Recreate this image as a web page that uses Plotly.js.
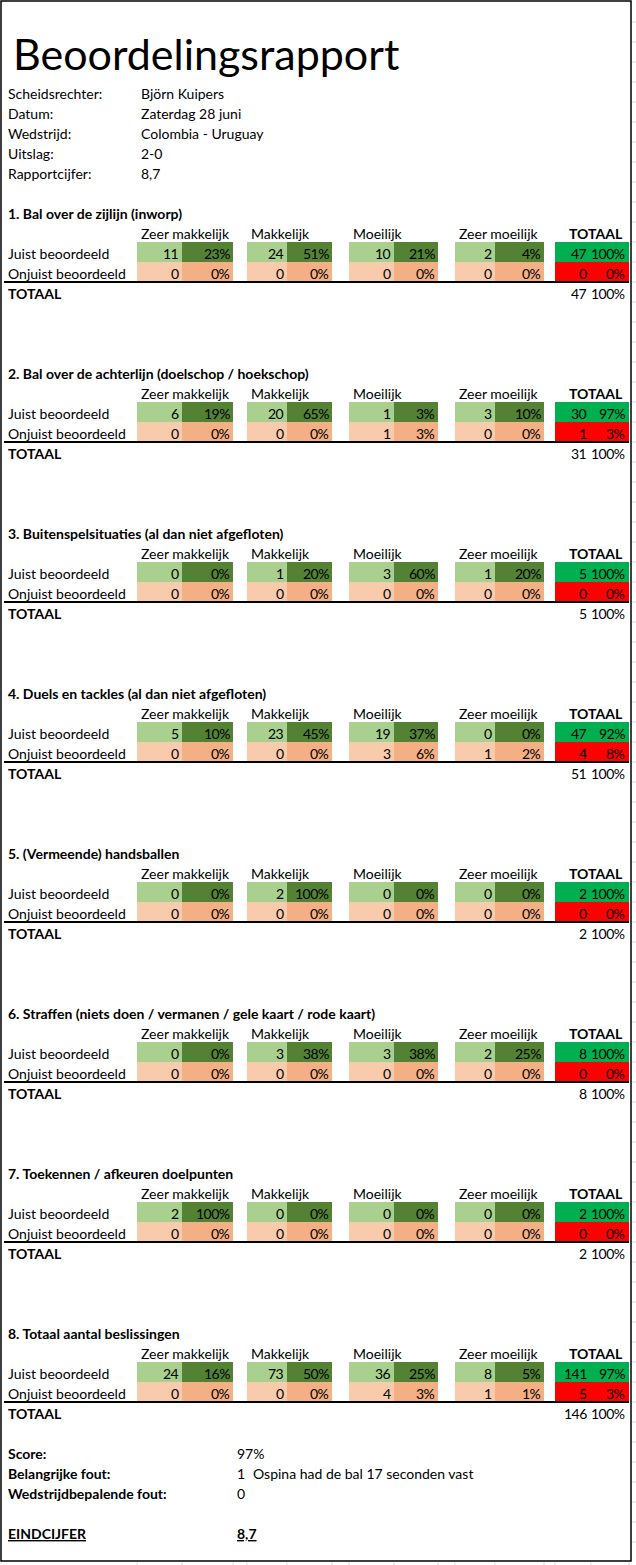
<!DOCTYPE html>
<html><head><meta charset="utf-8">
<script src="https://cdn.plot.ly/plotly-3.0.1.min.js"></script>
<style>html,body{margin:0;padding:0;background:#fff}</style>
</head><body><div id="chart" style="width:636px;height:1565px"></div>
<script>
// ---------- DATA ----------
const reportTitle = "Beoordelingsrapport";
const infoLabels = ["Scheidsrechter:", "Datum:", "Wedstrijd:", "Uitslag:", "Rapportcijfer:"];
const infoValues = ["Björn Kuipers", "Zaterdag 28 juni", "Colombia - Uruguay", "2-0", "8,7"];
const sectionTitles = [
  "1. Bal over de zijlijn (inworp)",
  "2. Bal over de achterlijn (doelschop / hoekschop)",
  "3. Buitenspelsituaties (al dan niet afgefloten)",
  "4. Duels en tackles (al dan niet afgefloten)",
  "5. (Vermeende) handsballen",
  "6. Straffen (niets doen / vermanen / gele kaart / rode kaart)",
  "7. Toekennen / afkeuren doelpunten",
  "8. Totaal aantal beslissingen"
];
const difficulties = ["Zeer makkelijk", "Makkelijk", "Moeilijk", "Zeer moeilijk"];
const totalHeader = "TOTAAL";
const rowLabels = ["Juist beoordeeld", "Onjuist beoordeeld"];
const totalRowLabel = "TOTAAL";
const juistCount = [[11,24,10,2],[6,20,1,3],[0,1,3,1],[5,23,19,0],[0,2,0,0],[0,3,3,2],[2,0,0,0],[24,73,36,8]];
const juistPct   = [[23,51,21,4],[19,65,3,10],[0,20,60,20],[10,45,37,0],[0,100,0,0],[0,38,38,25],[100,0,0,0],[16,50,25,5]];
const onjuistCount = [[0,0,0,0],[0,0,1,0],[0,0,0,0],[0,0,3,1],[0,0,0,0],[0,0,0,0],[0,0,0,0],[0,0,4,1]];
const onjuistPct   = [[0,0,0,0],[0,0,3,0],[0,0,0,0],[0,0,6,2],[0,0,0,0],[0,0,0,0],[0,0,0,0],[0,0,3,1]];
const juistTotal = [47,30,5,47,2,8,2,141];
const juistTotalPct = [100,97,100,92,100,100,100,97];
const onjuistTotal = [0,1,0,4,0,0,0,5];
const onjuistTotalPct = [0,3,0,8,0,0,0,3];
const grandTotal = [47,31,5,51,2,8,2,146];
const grandTotalPct = [100,100,100,100,100,100,100,100];
const summaryLabels = ["Score:", "Belangrijke fout:", "Wedstrijdbepalende fout:"];
const summaryValues = ["97%", "1", "0"];
const summaryNotes = ["", "Ospina had de bal 17 seconden vast", ""];
const finalLabel = "EINDCIJFER";
const finalGrade = "8,7";

// ---------- LAYOUT GEOMETRY ----------
const W = 636, H = 1565;
const FONT = "Lato, 'Noto Sans', sans-serif";
const FS = 14;
const cellStart = [137, 247, 349, 455];
const cellSplit = [182, 287, 394, 495];
const cellEnd   = [233, 332, 438, 544];
const totStart = 555, totSplit = 591, totEnd = 629;
const rowH = 20;
const sectionTop = 212, sectionStep = 160;
const COLORS = {
  lightGreen: "#A9D08E", darkGreen: "#548235",
  lightOrange: "#F8CBAD", orange: "#F4B084",
  totGreen: "#00B050", totRed: "#FF0000"
};

const cellSets = {};
Object.keys(COLORS).forEach(k => cellSets[k] = {y: [], base: [], x: []});
function addCell(key, x0, x1, yc) {
  cellSets[key].y.push(yc); cellSets[key].base.push(x0); cellSets[key].x.push(x1 - x0);
}
const annotations = [];
function txt(x, y, text, anchor, opts) {
  opts = opts || {};
  annotations.push({
    x: x, y: y, xref: "x", yref: "y", text: text, showarrow: false,
    xanchor: anchor, yanchor: "middle", borderpad: 0, align: anchor,
    font: {family: opts.family || FONT, size: opts.size || FS, color: "#000"}
  });
}
function num(v, suffix) {
  return "<span style='letter-spacing:-0.5px'>" + v + (suffix || "") + "</span>";
}
const shapes = [];
const TY = 1.5; // text vertical offset (bottom-aligned cells)

// title + info
txt(12, 53, reportTitle, "left", {size: 43});
infoLabels.forEach((l, i) => {
  const y = 92 + i * rowH + TY;
  txt(7, y, l, "left");
  txt(140, y, infoValues[i], "left");
});

// sections
sectionTitles.forEach((t, s) => {
  const yT = sectionTop + s * sectionStep;
  const yHead = yT + rowH, yJ = yT + 2 * rowH, yO = yT + 3 * rowH, yTot = yT + 4 * rowH;
  txt(7, yT + TY, "<b>" + t + "</b>", "left");
  difficulties.forEach((d, c) => txt(cellStart[c] + 3, yHead + TY, d, "left"));
  txt(totEnd - 5, yHead + TY, "<b>" + totalHeader + "</b>", "right");
  txt(7, yJ + TY, rowLabels[0], "left");
  txt(7, yO + TY, rowLabels[1], "left");
  for (let c = 0; c < 4; c++) {
    addCell("lightGreen", cellStart[c], cellSplit[c], yJ);
    addCell("darkGreen", cellSplit[c], cellEnd[c], yJ);
    addCell("lightOrange", cellStart[c], cellSplit[c], yO);
    addCell("orange", cellSplit[c], cellEnd[c], yO);
    txt(cellSplit[c] - 2, yJ + TY, num(juistCount[s][c]), "right");
    txt(cellEnd[c] - 2, yJ + TY, num(juistPct[s][c], "%"), "right");
    txt(cellSplit[c] - 2, yO + TY, num(onjuistCount[s][c]), "right");
    txt(cellEnd[c] - 2, yO + TY, num(onjuistPct[s][c], "%"), "right");
  }
  addCell("totGreen", totStart, totEnd, yJ);
  addCell("totRed", totStart, totEnd, yO);
  txt(totSplit - 3, yJ + TY, num(juistTotal[s]), "right");
  txt(totEnd - 3, yJ + TY, num(juistTotalPct[s], "%"), "right");
  txt(totSplit - 3, yO + TY, num(onjuistTotal[s]), "right");
  txt(totEnd - 3, yO + TY, num(onjuistTotalPct[s], "%"), "right");
  txt(7, yTot + TY, "<b>" + totalRowLabel + "</b>", "left");
  txt(totSplit - 3, yTot + TY, num(grandTotal[s]), "right");
  txt(totEnd - 3, yTot + TY, num(grandTotalPct[s], "%"), "right");
  const yLine = yO + rowH / 2;
  shapes.push({type: "line", xref: "x", yref: "y", x0: 4, x1: totEnd, y0: yLine, y1: yLine,
    line: {color: "#000", width: 1.8}});
});

// summary
summaryLabels.forEach((l, i) => {
  const y = 1452 + i * rowH + TY;
  txt(7, y, "<b>" + l + "</b>", "left");
  txt(236, y, summaryValues[i], "left");
  if (summaryNotes[i]) txt(252, y, summaryNotes[i], "left");
});
txt(7, 1532 + TY, "<b><span style='text-decoration:underline'>" + finalLabel + "</span></b>", "left");
txt(236, 1532 + TY, "<b><span style='text-decoration:underline'>" + finalGrade + "</span></b>", "left");

// frame and faint sheet gridlines outside it
shapes.push({type: "rect", xref: "x", yref: "y", x0: 1, x1: 631, y0: 1, y1: 1561,
  line: {color: "#000", width: 1.5}, fillcolor: "rgba(0,0,0,0)"});
for (let y = 22; y < 1561; y += 20) {
  shapes.push({type: "line", xref: "x", yref: "y", x0: 632.5, x1: 636, y0: y, y1: y,
    line: {color: "#d4d4d4", width: 1}});
}
[137,182,233,247,287,332,349,394,438,455,495,544,555,591,629].forEach(x => {
  shapes.push({type: "line", xref: "x", yref: "y", x0: x, x1: x, y0: 1562.5, y1: 1565,
    line: {color: "#d4d4d4", width: 1}});
});

const traces = Object.keys(cellSets).map(k => ({
  type: "bar", orientation: "h", y: cellSets[k].y, x: cellSets[k].x, base: cellSets[k].base,
  width: rowH, marker: {color: COLORS[k], line: {width: 0}}, hoverinfo: "skip", showlegend: false
}));

const layout = {
  width: W, height: H, margin: {l: 0, r: 0, t: 0, b: 0, pad: 0},
  paper_bgcolor: "#fff", plot_bgcolor: "#fff", barmode: "overlay", bargap: 0,
  xaxis: {range: [0, W], visible: false, fixedrange: true},
  yaxis: {range: [H, 0], visible: false, fixedrange: true},
  annotations: annotations, shapes: shapes, showlegend: false
};
Plotly.newPlot("chart", traces, layout, {staticPlot: true, displayModeBar: false});
</script></body></html>
